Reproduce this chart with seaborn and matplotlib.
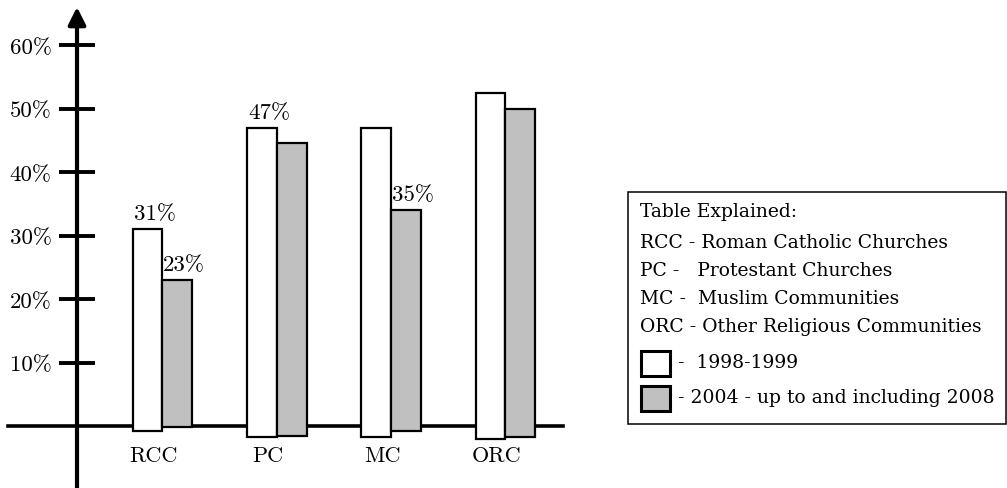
import pandas as pd
import seaborn as sns
import matplotlib.pyplot as plt
from matplotlib.patches import Rectangle
from matplotlib.transforms import ScaledTranslation

# ------------------------------------------------------------
# data (percent)
# ------------------------------------------------------------
categories = ["RCC", "PC", "MC", "ORC"]
periods = ["1998-1999", "2004 - up to and including 2008"]
values_1998 = [31, 47, 47, 52.5]
values_2004 = [23, 44.5, 34, 50]
# bars dip a little below the x axis in the drawing
bottoms_1998 = [-0.8, -1.7, -1.7, -2.0]
bottoms_2004 = [-0.2, -1.6, -0.8, -1.7]
labels_1998 = ["31%", "47%", "", ""]
labels_2004 = ["23%", "", "35%", ""]
y_ticks = [10, 20, 30, 40, 50, 60]
y_tick_labels = ["10%", "20%", "30%", "40%", "50%", "60%"]
legend_lines = ["Table Explained:",
                "RCC - Roman Catholic Churches",
                "PC -   Protestant Churches",
                "MC -  Muslim Communities",
                "ORC - Other Religious Communities"]

df = pd.DataFrame({
    "categoria": categories * 2,
    "periodo": [periods[0]] * 4 + [periods[1]] * 4,
    "valor": values_1998 + values_2004,
})

sns.set_style("white")
plt.rcParams["font.family"] = ["cmr10", "DejaVu Serif"]
plt.rcParams["axes.formatter.use_mathtext"] = True
for k in ["text.color", "xtick.color", "ytick.color", "xtick.labelcolor",
          "ytick.labelcolor", "axes.edgecolor", "axes.labelcolor"]:
    plt.rcParams[k] = "black"

W, H = 1007, 489
fig = plt.figure(figsize=(W / 100, H / 100), dpi=100)
ax = fig.add_axes([0, 0, 1, 1])
ax.set_facecolor("none")

sns.barplot(data=df, x="categoria", y="valor", hue="periodo",
            palette=["white", "#c0c0c0"], width=0.52, edgecolor="black",
            linewidth=1.6, legend=False, zorder=3, ax=ax)

# px = 162.5 + 114.3 * x ; py = 427 - 6.35 * y
X0, SX = 162.5, 114.3
ax.set_xlim(-X0 / SX, (W - X0) / SX)
ax.set_ylim(-(H - 427) / 6.35, 427 / 6.35)
ax.set_xlabel("")
ax.set_ylabel("")

# stretch bars down below the axis line
for cont, bots, labs in zip(ax.containers, [bottoms_1998, bottoms_2004],
                            [labels_1998, labels_2004]):
    for bar, b, lab in zip(cont, bots, labs):
        top = bar.get_y() + bar.get_height()
        bar.set_y(b)
        bar.set_height(top - b)
        if lab:
            ax.annotate(lab, (bar.get_x() + bar.get_width() / 2, top),
                        xytext=(5, 4), textcoords="offset points",
                        ha="center", va="bottom", fontsize=16.5)

y_axis_x = (77 - X0) / SX

# axes drawn like a hand sketch
for s in ["top", "right"]:
    ax.spines[s].set_visible(False)
ax.spines["left"].set_position(("data", y_axis_x))
ax.spines["left"].set_visible(False)
ax.spines["bottom"].set_position(("data", 0))
ax.spines["bottom"].set_bounds((8 - X0) / SX, (563 - X0) / SX)
ax.spines["bottom"].set_linewidth(2.6)
ax.spines["bottom"].set_zorder(2)

ax.annotate("", xy=(y_axis_x, (427 - 8) / 6.35),
            xytext=(y_axis_x, -(H - 427) / 6.35),
            arrowprops=dict(arrowstyle="-|>,head_length=0.7,head_width=0.35",
                            lw=3, color="black", mutation_scale=15,
                            shrinkA=0, shrinkB=0))

ax.set_yticks(y_ticks)
ax.set_yticklabels(y_tick_labels)
ax.tick_params(axis="y", direction="inout", length=26.6, width=2.8,
               pad=5, labelsize=16.5, left=True)

ax.set_xticks(range(len(categories)))
ax.set_xticklabels(categories)
ax.tick_params(axis="x", length=0, pad=14, labelsize=16)
for t in ax.get_xticklabels():
    t.set_transform(t.get_transform() + ScaledTranslation(-9 / 100, 0, fig.dpi_scale_trans))

# ------------------------------------------------------------
# explanation box
# ------------------------------------------------------------
def fx(px):
    return px / W


def fy(py):
    return 1 - py / H


fig.patches.append(Rectangle((fx(628), fy(425)), fx(1006) - fx(628), fy(193) - fy(425),
                             transform=fig.transFigure, fill=False,
                             edgecolor="black", linewidth=1.1))
box_font = ["DejaVu Serif"]
for i, line in enumerate(legend_lines):
    fig.text(fx(640), fy([212, 243, 271, 299, 327][i]), line, ha="left", va="center",
             fontsize=13.5, family=box_font)

for py, face, lab in zip([352, 387], ["white", "#c0c0c0"], periods):
    fig.patches.append(Rectangle((fx(641), fy(py + 25)), fx(670) - fx(641), fy(py) - fy(py + 25),
                                 transform=fig.transFigure, facecolor=face,
                                 edgecolor="black", linewidth=2.2))
    txt = "-  " + lab if lab == periods[0] else "- " + lab
    fig.text(fx(678), fy(py + 11), txt, ha="left", va="center",
             fontsize=13.5, family=box_font)

fig.savefig("out.png", dpi=100)
